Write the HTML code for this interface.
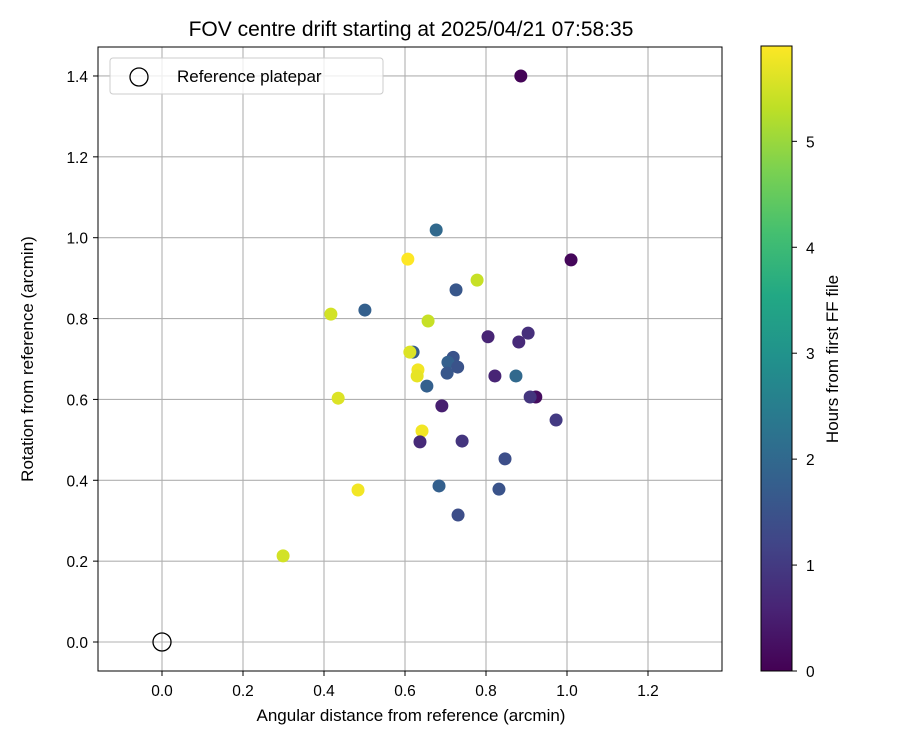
<!DOCTYPE html>
<html><head><meta charset="utf-8"><style>
body{margin:0;background:#fff;font-family:"Liberation Sans","DejaVu Sans",sans-serif}
svg text{font-family:"Liberation Sans","DejaVu Sans",sans-serif}
</style></head><body>
<svg id="c" width="900" height="750" xmlns="http://www.w3.org/2000/svg">
<defs><linearGradient id="vir" x1="0" y1="1" x2="0" y2="0">
<stop offset="0" stop-color="#440154"/><stop offset="0.1" stop-color="#482475"/><stop offset="0.2" stop-color="#414487"/><stop offset="0.3" stop-color="#355f8d"/><stop offset="0.4" stop-color="#2a788e"/><stop offset="0.5" stop-color="#21918c"/><stop offset="0.6" stop-color="#22a884"/><stop offset="0.7" stop-color="#44bf70"/><stop offset="0.8" stop-color="#7ad151"/><stop offset="0.9" stop-color="#bddf26"/><stop offset="1" stop-color="#fde725"/></linearGradient></defs>
<text x="411" y="36" font-size="21" text-anchor="middle">FOV centre drift starting at 2025/04/21 07:58:35</text>
<g id="grid"></g><g id="pts"></g>
<rect x="98" y="47" width="624" height="624" fill="none" stroke="#000" stroke-width="1"/>
<g id="axes"></g>
<text x="411" y="721" font-size="17" text-anchor="middle">Angular distance from reference (arcmin)</text>
<text transform="translate(33,359) rotate(-90)" font-size="17" text-anchor="middle">Rotation from reference (arcmin)</text>
<g>
<rect x="110" y="58" width="273" height="36" rx="3" fill="#fff" fill-opacity="0.8" stroke="#ccc"/>
<circle cx="139" cy="77" r="9" fill="none" stroke="#000" stroke-width="1.3"/>
<text x="177" y="82" font-size="17">Reference platepar</text>
</g>
<rect x="761" y="46" width="31" height="625" fill="url(#vir)" stroke="#000"/>
<g id="cb"></g>
<text transform="translate(838,359) rotate(-90)" font-size="17" text-anchor="middle">Hours from first FF file</text>
</svg>
<script>
const xs=[0.886,1.010,0.677,0.607,0.778,0.726,0.501,0.417,0.657,0.805,0.904,0.881,0.620,0.612,0.719,0.706,0.730,0.704,0.632,0.630,0.822,0.874,0.654,0.923,0.909,0.435,0.691,0.973,0.642,0.637,0.741,0.847,0.684,0.832,0.731,0.484,0.299];
const ys=[1.400,0.945,1.019,0.947,0.895,0.871,0.821,0.811,0.794,0.755,0.764,0.742,0.717,0.717,0.704,0.692,0.680,0.665,0.673,0.658,0.658,0.658,0.633,0.606,0.606,0.603,0.584,0.549,0.522,0.495,0.497,0.453,0.386,0.378,0.314,0.376,0.213];
const hours=[0.05,0.1,2.0,5.9,5.4,1.6,1.8,5.5,5.4,0.6,0.8,0.7,1.7,5.6,1.5,1.8,1.5,1.6,5.8,5.7,0.6,2.0,1.8,0.2,0.9,5.6,0.5,1.0,5.8,0.7,0.9,1.4,1.8,1.5,1.4,5.8,5.5];
const xTicks=[0,0.2,0.4,0.6,0.8,1.0,1.2];
const yTicks=[0,0.2,0.4,0.6,0.8,1.0,1.2,1.4];
const cTicks=[0,1,2,3,4,5];
const HMAX=5.9;
const sx=v=>162+v*405, sy=v=>642-v*404.3, sc=v=>671-v*(625/HMAX);
const V=["#440154","#482475","#414487","#355f8d","#2a788e","#21918c","#22a884","#44bf70","#7ad151","#bddf26","#fde725"].map(h=>[1,3,5].map(i=>parseInt(h.substr(i,2),16)));
function vir(t){t=Math.max(0,Math.min(1,t))*10;const i=Math.min(9,Math.floor(t)),f=t-i;return 'rgb('+V[i].map((c,k)=>Math.round(c+(V[i+1][k]-c)*f)).join(',')+')';}
const NS="http://www.w3.org/2000/svg";
function mk(p,tag,a){const e=document.createElementNS(NS,tag);for(const k in a)e.setAttribute(k,a[k]);document.getElementById(p).appendChild(e);return e;}
xTicks.forEach(t=>{const x=sx(t);
const g=mk('grid','line',{x1:x,x2:x,y1:47,y2:671,stroke:'#b0b0b0','stroke-width':1.1});


mk('axes','line',{x1:x,x2:x,y1:671,y2:676,stroke:'#000'});
const l=mk('axes','text',{x:x,y:696,'font-size':15.5,'text-anchor':'middle'});l.textContent=t.toFixed(1);

});
yTicks.forEach(t=>{const y=sy(t);
const g=mk('grid','line',{x1:98,x2:722,y1:y,y2:y,stroke:'#b0b0b0','stroke-width':1.1});


mk('axes','line',{x1:93,x2:98,y1:y,y2:y,stroke:'#000'});
const l=mk('axes','text',{x:88,y:y+6,'font-size':15.5,'text-anchor':'end'});l.textContent=t.toFixed(1);

});
const r=mk('pts','circle',{cx:sx(0),cy:sy(0),r:9,fill:'none',stroke:'#000','stroke-width':1.3});


xs.forEach((x,i)=>{const c=mk('pts','circle',{cx:sx(x),cy:sy(ys[i]),r:6.5,fill:vir(hours[i]/HMAX)});

});
cTicks.forEach(t=>{const y=sc(t);mk('cb','line',{x1:792,x2:797,y1:y,y2:y,stroke:'#000'});
const l=mk('cb','text',{x:806,y:y+6,'font-size':15.5});l.textContent=t;

});
</script>
</body></html>
